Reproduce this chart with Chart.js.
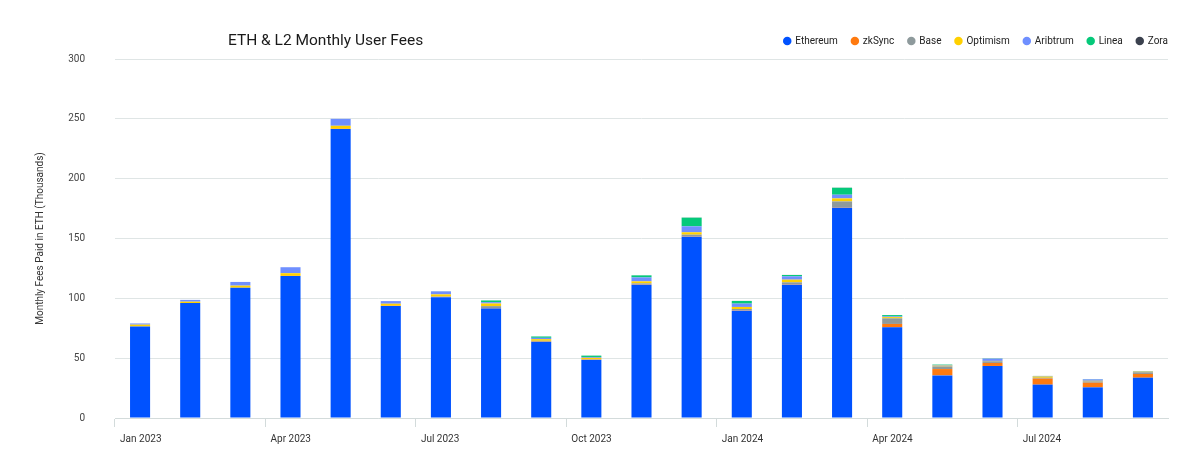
<!DOCTYPE html>
<html>
<head>
<meta charset="utf-8">
<script src="https://cdn.jsdelivr.net/npm/chart.js@4/dist/chart.umd.min.js"></script>
<style>
  html, body { margin: 0; padding: 0; background: #ffffff; }
  #wrap { position: relative; width: 1200px; height: 460px; }
  #title { position: absolute; left: 228px; top: 29px; font-family: Roboto, "Noto Sans", sans-serif; font-size: 15.5px; color: #1a1a1a; line-height: 22px; white-space: nowrap; }
</style>
</head>
<body>
<div id="wrap">
  <canvas id="c" width="1200" height="460"></canvas>
  <div id="title">ETH &amp; L2 Monthly User Fees</div>
</div>
<script>
const months = ['Jan 2023','Feb 2023','Mar 2023','Apr 2023','May 2023','Jun 2023','Jul 2023','Aug 2023','Sep 2023','Oct 2023','Nov 2023','Dec 2023',
                'Jan 2024','Feb 2024','Mar 2024','Apr 2024','May 2024','Jun 2024','Jul 2024','Aug 2024','Sep 2024'];
const ethereum = [76.5, 96, 108.9, 118.7, 241.5, 93.6, 101, 91.4, 63.5, 48.5, 111.4, 151.5, 89.7, 111.4, 175.7, 75.8, 35.6, 43.5, 27.9, 25.6, 33.7];
const zksync   = [0, 0, 0, 0.1, 0.2, 0.2, 0.2, 0.2, 0.2, 0.2, 0.3, 0.3, 0.3, 0.3, 0.3, 2.8, 5.3, 2.5, 5.0, 3.9, 3.1];
const base     = [0, 0, 0, 0, 0, 0, 0.3, 1.9, 0.8, 0.5, 0.8, 1.4, 1.1, 1.7, 5.0, 4.7, 2.2, 1.4, 0.7, 1.1, 1.4];
const optimism = [1.5, 1.2, 1.7, 2.2, 2.5, 1.7, 1.8, 2.2, 1.4, 1.1, 1.7, 2.0, 1.7, 2.2, 2.5, 1.0, 0.6, 0.3, 1.0, 0.5, 0.5];
const arbitrum = [1.0, 1.5, 3.1, 5.0, 5.8, 2.2, 2.5, 1.1, 1.1, 0.7, 3.3, 5.0, 2.8, 2.8, 3.1, 0.6, 0.4, 1.9, 0.3, 1.2, 0.3];
const linea    = [0, 0, 0, 0, 0, 0, 0.1, 1.4, 1.1, 1.1, 1.7, 7.2, 2.2, 1.1, 5.8, 1.1, 0.5, 0.2, 0.2, 0.2, 0.2];
const zora     = [0, 0, 0, 0, 0, 0, 0.05, 0.05, 0.05, 0.05, 0.05, 0.1, 0.05, 0.05, 0.1, 0.05, 0.05, 0.05, 0.05, 0.05, 0.05];
const yTicks = [0, 50, 100, 150, 200, 250, 300];

const seriesNames = ['Ethereum','zkSync','Base','Optimism','Aribtrum','Linea','Zora'];
const seriesData = [ethereum, zksync, base, optimism, arbitrum, linea, zora];
const seriesColors = ['#0052FF','#FF7A0F','#8E9A9C','#FFD000','#6F8FFF','#05C97A','#3B414E'];

const legendShift = {
  id: 'legendShift',
  afterLayout(chart) {
    const l = chart.legend;
    if (!l) return;
    l.left += 14; l.right += 14;
    l.top -= 3; l.bottom -= 3;
  }
};

const FONT = 'Roboto, "Noto Sans", sans-serif';

new Chart(document.getElementById('c'), {
  type: 'bar',
  data: {
    labels: months,
    datasets: seriesNames.map((n, i) => ({
      label: n,
      data: seriesData[i],
      backgroundColor: seriesColors[i],
      borderWidth: 0,
      barPercentage: 0.4,
      categoryPercentage: 1.0
    }))
  },
  plugins: [legendShift],
  options: {
    responsive: false,
    animation: false,
    devicePixelRatio: 1,
    layout: { padding: { left: 0, right: 32, top: 25, bottom: 0 } },
    plugins: {
      title: { display: false },
      tooltip: { enabled: false },
      legend: {
        position: 'top',
        align: 'end',
        labels: {
          usePointStyle: true,
          pointStyle: 'circle',
          boxWidth: 6,
          boxHeight: 6,
          padding: 14,
          color: '#222',
          font: { family: FONT, size: 10 }
        }
      }
    },
    scales: {
      x: {
        stacked: true,
        offset: true,
        afterFit(s) { s.height = 42; },
        grid: {
          offset: true,
          drawOnChartArea: false,
          drawTicks: true,
          tickLength: 9,
          color: (ctx) => (ctx.index % 3 === 0 ? '#d3dbdb' : 'rgba(0,0,0,0)')
        },
        border: { display: true, color: '#d3dbdb' },
        ticks: {
          autoSkip: false,
          maxRotation: 0,
          minRotation: 0,
          align: 'start',
          labelOffset: -20,
          padding: 6,
          color: '#333',
          font: { family: FONT, size: 10 },
          callback: (v, i) => (i % 3 === 0 ? months[i] : '')
        }
      },
      y: {
        stacked: true,
        min: yTicks[0],
        max: yTicks[yTicks.length - 1],
        afterFit(s) { s.width = 115; },
        afterBuildTicks(s) { s.ticks = yTicks.map(v => ({ value: v })); },
        grid: { color: '#dfe5e5', lineWidth: 1, drawTicks: false },
        border: { display: false },
        ticks: {
          padding: 30,
          color: '#444',
          font: { family: FONT, size: 10 }
        },
        title: {
          display: true,
          text: 'Monthly Fees Paid in ETH (Thousands)',
          color: '#333',
          font: { family: FONT, size: 10 },
          padding: { top: 34, bottom: 0 }
        }
      }
    }
  }
});
</script>
</body>
</html>
